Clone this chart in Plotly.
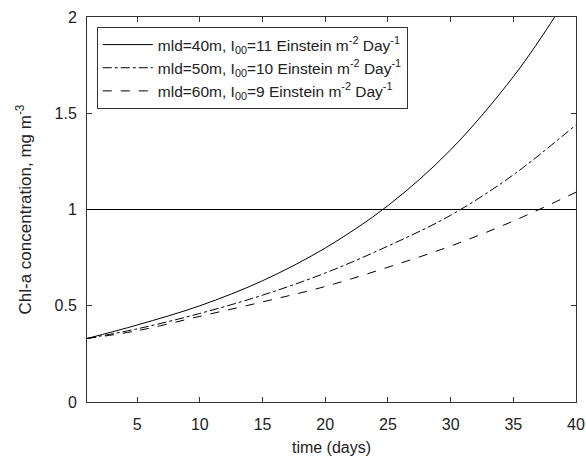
import plotly.graph_objects as go

days = [1, 5, 10, 15, 20, 25, 30, 35, 38.3, 40]
chl_mld40 = [0.33, 0.40, 0.50, 0.63, 0.80, 1.02, 1.31, 1.69, 2.0, 2.18]
days_b = [1, 5, 10, 15, 20, 25, 30, 35, 40]
chl_mld50 = [0.33, 0.38, 0.46, 0.555, 0.67, 0.81, 0.97, 1.18, 1.44]
chl_mld60 = [0.33, 0.37, 0.445, 0.52, 0.60, 0.70, 0.81, 0.94, 1.09]
threshold = 1.0

names = [
    "mld=40m, I<sub>00</sub>=11 Einstein m<sup>-2</sup> Day<sup>-1</sup>",
    "mld=50m, I<sub>00</sub>=10 Einstein m<sup>-2</sup> Day<sup>-1</sup>",
    "mld=60m, I<sub>00</sub>=9 Einstein m<sup>-2</sup> Day<sup>-1</sup>",
]
x_ticks = [5, 10, 15, 20, 25, 30, 35, 40]
y_ticks = [0, 0.5, 1, 1.5, 2]

fig = go.Figure()
fig.add_trace(go.Scatter(x=days, y=chl_mld40, mode="lines", name=names[0],
                         line=dict(color="black", width=1, dash="solid", shape="spline")))
fig.add_trace(go.Scatter(x=days_b, y=chl_mld50, mode="lines", name=names[1],
                         line=dict(color="black", width=1, dash="dashdot", shape="spline")))
fig.add_trace(go.Scatter(x=days_b, y=chl_mld60, mode="lines", name=names[2],
                         line=dict(color="black", width=1, dash="dash", shape="spline")))
fig.add_hline(y=threshold, line=dict(color="black", width=1))

font = "Liberation Sans, Arial, sans-serif"
axis_common = dict(showgrid=False, zeroline=False, showline=True, mirror="ticks",
                   linecolor="#333", linewidth=1, ticks="inside", ticklen=5,
                   tickcolor="#333", tickfont=dict(size=16, color="#222", family=font),
                   automargin=False)
fig.update_xaxes(range=[1, 40], tickvals=x_ticks, ticklabelstandoff=8,
                 title=dict(text="time (days)", font=dict(size=16, color="#222", family=font), standoff=9),
                 **axis_common)
fig.update_yaxes(range=[0, 2], tickvals=y_ticks, ticktext=["0", "0.5", "1", "1.5", "2"],
                 ticklabelstandoff=6,
                 title=dict(text="Chl-a concentration, mg m<sup>-3</sup>",
                            font=dict(size=17, color="#222", family=font), standoff=18),
                 **axis_common)
fig.update_layout(
    width=586, height=458,
    margin=dict(l=87, r=10, t=17, b=56),
    plot_bgcolor="white", paper_bgcolor="white",
    font=dict(family=font, color="#222"),
    legend=dict(x=0.02, y=0.974, xanchor="left", yanchor="top",
                bgcolor="white", bordercolor="#333", borderwidth=1,
                font=dict(size=15.5, color="#222", family=font),
                itemwidth=50, tracegroupgap=0),
    showlegend=True,
)
fig.write_html("out.html")
